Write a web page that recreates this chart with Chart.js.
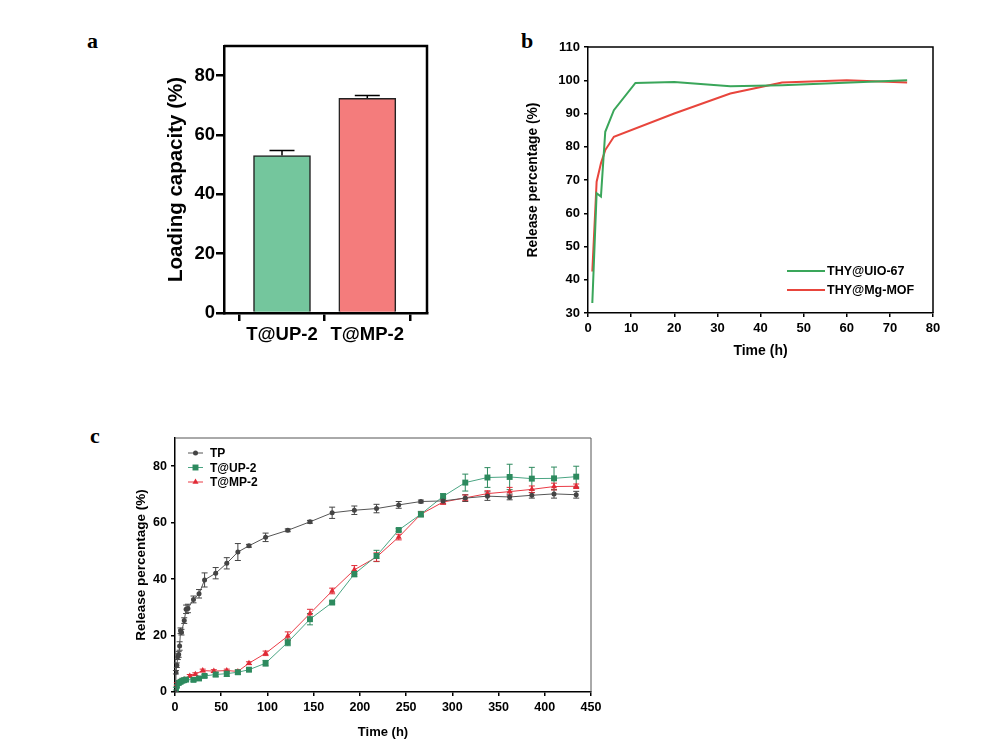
<!DOCTYPE html>
<html>
<head>
<meta charset="utf-8">
<script src="https://cdn.jsdelivr.net/npm/chart.js@4.4.1/dist/chart.umd.min.js"></script>
<style>
  body { margin: 0; background: #fff; width: 1008px; height: 753px; position: relative; overflow: hidden; }
  canvas { position: absolute; }
  .lbl { position: absolute; font: bold 22px "Liberation Serif", "Times New Roman", serif; line-height: 22px; color: #000; }
</style>
</head>
<body>
<div class="lbl" style="left:87px;top:30px">a</div>
<div class="lbl" style="left:521px;top:30px">b</div>
<div class="lbl" style="left:90px;top:425px">c</div>
<canvas id="chartA" width="300" height="330" style="left:150px;top:30px"></canvas>
<canvas id="chartB" width="470" height="340" style="left:500px;top:30px"></canvas>
<canvas id="chartC" width="540" height="330" style="left:90px;top:420px"></canvas>
<script>
// panel a - loading capacity
const aCats = ['T@UP-2', 'T@MP-2'];
const aLoad = [53.1, 72.4];
const aErr = [1.7, 0.9];
const aTicks = [0, 20, 40, 60, 80];

// panel b - release, hours
const bTimeUIO = [1, 2, 3, 4, 6, 11, 20, 33, 45, 74];
const bUIO = [33, 66, 65, 84.5, 91, 99.2, 99.5, 98.2, 98.5, 100];
const bTimeMg = [1, 2, 3, 4, 6, 20, 33, 45, 60, 74];
const bMg = [42.5, 69.5, 75, 79, 83, 90, 96, 99.3, 100, 99.3];

// panel c - release, hours
const tpTime = [0, 1, 2, 3, 4, 5, 6, 7, 10, 12, 14, 20, 26, 32, 44, 56, 68, 80, 98, 122, 146, 170, 194, 218, 242, 266, 290, 314, 338, 362, 386, 410, 434];
const tpValue = [0, 7, 9.5, 12.5, 13.3, 16.3, 21.7, 21.2, 25.3, 29.3, 29.6, 32.8, 34.8, 39.7, 42.1, 45.6, 49.6, 51.8, 54.8, 57.3, 60.3, 63.5, 64.4, 65.0, 66.3, 67.5, 67.7, 68.7, 69.4, 69.1, 69.7, 70.2, 69.9];
const tpError = [0, 0.6, 0.8, 1, 1, 1.5, 1, 1, 1, 1.5, 1.5, 1.2, 1.5, 2.5, 2, 2, 3, 0.5, 1.5, 0.5, 0.5, 2, 1.5, 1.5, 1.2, 0.5, 1, 1.2, 1.5, 1, 1, 1.5, 1.2];

const upTime = [0, 1, 2, 4, 6, 8, 10, 12, 20, 26, 32, 44, 56, 68, 80, 98, 122, 146, 170, 194, 218, 242, 266, 290, 314, 338, 362, 386, 410, 434];
const upValue = [0, 1.2, 2.2, 3.2, 3.6, 4.0, 4.2, 4.4, 4.3, 4.8, 5.7, 6.2, 6.5, 7.0, 7.9, 10.2, 17.6, 25.8, 31.7, 41.8, 48.2, 57.4, 63.0, 69.3, 74.2, 76.0, 76.2, 75.6, 75.7, 76.3];
const upError = [0, 0.5, 0.5, 0.5, 0.5, 0.5, 0.5, 0.5, 0.5, 0.5, 0.5, 0.8, 1, 0.8, 0.5, 1, 1.2, 2, 0.5, 1, 2, 0.5, 1, 1, 3, 3.5, 4.5, 4, 4, 3.7];

const mpTime = [0, 2, 5, 10, 16, 22, 30, 42, 56, 68, 80, 98, 122, 146, 170, 194, 218, 242, 266, 290, 314, 338, 362, 386, 410, 434];
const mpValue = [0, 2.8, 3.6, 4.4, 5.7, 6.3, 7.6, 7.4, 7.6, 7.3, 10.2, 13.7, 19.8, 27.8, 35.8, 43.3, 47.8, 54.9, 63.0, 67.3, 68.8, 70.3, 71.0, 71.8, 72.8, 72.9];
const mpError = [0, 0.5, 0.5, 0.5, 0.5, 0.5, 0.5, 0.5, 0.5, 0.5, 0.5, 0.8, 1.5, 1.5, 1, 1.5, 1.5, 1, 0.8, 0.8, 1, 1, 1.5, 1.2, 1.2, 0.8];
const cYTicks = [0, 20, 40, 60, 80];

Chart.defaults.font.family = '"Liberation Sans", Arial, sans-serif';
Chart.defaults.font.weight = 'bold';
Chart.defaults.color = '#000';

const pts = (xs, ys) => xs.map((x, i) => ({ x: x, y: ys[i] }));

// top + right lines of the plot box
const frame = {
  id: 'frame',
  afterDraw(chart, args, opts) {
    const { ctx, chartArea: a } = chart;
    ctx.save();
    ctx.strokeStyle = opts.color || '#000';
    ctx.lineWidth = opts.width || 1;
    ctx.beginPath();
    ctx.moveTo(a.left, a.top);
    ctx.lineTo(a.right, a.top);
    ctx.lineTo(a.right, a.bottom);
    ctx.stroke();
    ctx.restore();
  }
};

const errorBars = {
  id: 'errorBars',
  beforeDatasetsDraw(chart, args, opts) {
    const { ctx } = chart;
    const ys = chart.scales.y;
    chart.data.datasets.forEach((ds, i) => {
      if (!ds.errors) return;
      const meta = chart.getDatasetMeta(i);
      ctx.save();
      ctx.strokeStyle = ds.errorColor || '#000';
      ctx.lineWidth = opts.lineWidth || 1;
      const w = (opts.cap || 6) / 2;
      meta.data.forEach((el, j) => {
        const e = ds.errors[j];
        if (!e) return;
        const v = ds.data[j].y;
        const top = ys.getPixelForValue(v + e);
        const bot = ys.getPixelForValue(opts.upperOnly ? v : v - e);
        ctx.beginPath();
        ctx.moveTo(el.x, top); ctx.lineTo(el.x, bot);
        ctx.moveTo(el.x - w, top); ctx.lineTo(el.x + w, top);
        if (!opts.upperOnly) { ctx.moveTo(el.x - w, bot); ctx.lineTo(el.x + w, bot); }
        ctx.stroke();
      });
      ctx.restore();
    });
  }
};

// legend drawn inside the plot area
const innerLegend = {
  id: 'innerLegend',
  afterDraw(chart, args, opts) {
    if (!opts.show) return;
    const { ctx, chartArea: a } = chart;
    ctx.save();
    ctx.font = opts.font;
    ctx.textBaseline = 'middle';
    chart.data.datasets.forEach((ds, i) => {
      const x = a.left + opts.x, y = a.top + opts.y + i * opts.gap;
      ctx.strokeStyle = ds.borderColor;
      ctx.lineWidth = opts.lineWidth;
      ctx.beginPath(); ctx.moveTo(x, y); ctx.lineTo(x + opts.len, y); ctx.stroke();
      if (opts.markers) {
        ctx.fillStyle = ds.pointBackgroundColor;
        Chart.helpers.drawPoint(ctx, { pointStyle: ds.pointStyle, radius: ds.pointRadius, borderWidth: 0, rotation: 0 }, x + opts.len / 2, y);
      }
      ctx.fillStyle = '#000';
      ctx.fillText(ds.label, x + opts.len + opts.pad, y + 1);
    });
    ctx.restore();
  }
};

Chart.register(frame, errorBars, innerLegend);

// ---- a ----
new Chart(document.getElementById('chartA'), {
  type: 'bar',
  data: {
    datasets: [{
      data: pts(aCats.map((c, i) => i + 1), aLoad),
      errors: aErr,
      backgroundColor: ['#74c69d', '#f47c7c'],
      borderColor: '#222',
      borderWidth: 1.5,
      barThickness: 57
    }]
  },
  options: {
    responsive: false,
    animation: false,
    devicePixelRatio: 1,
    layout: { padding: { left: 10, top: 16, right: 23, bottom: 0 } },
    scales: {
      x: {
        type: 'linear', min: 0.32, max: 2.7, offset: false,
        afterBuildTicks: s => { s.ticks = aCats.map((c, i) => ({ value: i + 1 })); },
        ticks: { callback: v => aCats[v - 1], font: { size: 18.5 }, padding: 3, autoSkip: false, maxRotation: 0 },
        grid: { drawOnChartArea: false, tickLength: 8, color: '#000', lineWidth: 2.5 },
        border: { color: '#000', width: 2.5 },
        afterFit: s => { s.height = 47; }
      },
      y: {
        min: 0, max: 90,
        afterBuildTicks: s => { s.ticks = aTicks.map(v => ({ value: v })); },
        ticks: { font: { size: 18.5 }, padding: 1 },
        grid: { drawOnChartArea: false, tickLength: 8, color: '#000', lineWidth: 2.5 },
        border: { color: '#000', width: 2.5 },
        title: { display: true, text: 'Loading capacity (%)', font: { size: 20.5 }, padding: { top: 4, bottom: 0 } },
        afterFit: s => { s.width = 64; }
      }
    },
    plugins: {
      legend: { display: false }, tooltip: { enabled: false },
      frame: { width: 2.5 },
      errorBars: { cap: 25, lineWidth: 1.5, upperOnly: true }
    }
  }
});

// ---- b ----
new Chart(document.getElementById('chartB'), {
  type: 'scatter',
  data: {
    datasets: [
      { label: 'THY@UIO-67', data: pts(bTimeUIO, bUIO), showLine: true, borderColor: '#3aa65a', borderWidth: 2, pointRadius: 0 },
      { label: 'THY@Mg-MOF', data: pts(bTimeMg, bMg), showLine: true, borderColor: '#e8453c', borderWidth: 2, pointRadius: 0 }
    ]
  },
  options: {
    responsive: false,
    animation: false,
    devicePixelRatio: 1,
    layout: { padding: { left: 20, top: 17, right: 37, bottom: 0 } },
    scales: {
      x: {
        min: 0, max: 80,
        ticks: { stepSize: 10, font: { size: 13 }, padding: 4, maxRotation: 0 },
        grid: { drawOnChartArea: false, tickLength: 4, color: '#000', lineWidth: 1.5 },
        border: { color: '#000', width: 1.5 },
        title: { display: true, text: 'Time (h)', font: { size: 14 }, padding: { top: 0, bottom: 10 } },
        afterFit: s => { s.height = 57; }
      },
      y: {
        min: 30, max: 110,
        ticks: { stepSize: 10, font: { size: 13 }, padding: 4 },
        grid: { drawOnChartArea: false, tickLength: 4, color: '#000', lineWidth: 1.5 },
        border: { color: '#000', width: 1.5 },
        title: { display: true, text: 'Release percentage (%)', font: { size: 13.8 }, padding: { top: 5, bottom: 0 } },
        afterFit: s => { s.width = 68; }
      }
    },
    plugins: {
      legend: { display: false }, tooltip: { enabled: false },
      frame: { width: 1.5 },
      innerLegend: { show: true, x: 199, y: 224, gap: 19, len: 38, pad: 2, lineWidth: 2, font: 'bold 12.5px "Liberation Sans", Arial, sans-serif' }
    }
  }
});

// ---- c ----
new Chart(document.getElementById('chartC'), {
  type: 'scatter',
  data: {
    datasets: [
      { label: 'TP', data: pts(tpTime, tpValue), errors: tpError, errorColor: '#444', showLine: true,
        borderColor: '#555', borderWidth: 1, pointStyle: 'circle', pointRadius: 2.5, pointBackgroundColor: '#444', pointBorderWidth: 0 },
      { label: 'T@UP-2', data: pts(upTime, upValue), errors: upError, errorColor: '#2d8a5e', showLine: true,
        borderColor: '#4aa583', borderWidth: 1, pointStyle: 'rect', pointRadius: 4.2, pointBackgroundColor: '#2d8a5e', pointBorderWidth: 0 },
      { label: 'T@MP-2', data: pts(mpTime, mpValue), errors: mpError, errorColor: '#e02a36', showLine: true,
        borderColor: '#ea3a45', borderWidth: 1, pointStyle: 'triangle', pointRadius: 3.5, pointBackgroundColor: '#e02a36', pointBorderWidth: 0 }
    ]
  },
  options: {
    responsive: false,
    animation: false,
    devicePixelRatio: 1,
    layout: { padding: { left: 30, top: 18, right: 39, bottom: 0 } },
    scales: {
      x: {
        min: 0, max: 450,
        ticks: { stepSize: 50, font: { size: 12.5 }, padding: 4, maxRotation: 0 },
        grid: { drawOnChartArea: false, tickLength: 4, color: '#000', lineWidth: 1.5 },
        border: { color: '#000', width: 1.5 },
        title: { display: true, text: 'Time (h)', font: { size: 13 }, padding: { top: 0, bottom: 10 } },
        afterFit: s => { s.height = 58; }
      },
      y: {
        min: 0, max: 90,
        afterBuildTicks: s => { s.ticks = cYTicks.map(v => ({ value: v })); },
        ticks: { font: { size: 12.5 }, padding: 4 },
        grid: { drawOnChartArea: false, tickLength: 4, color: '#000', lineWidth: 1.5 },
        border: { color: '#000', width: 1.5 },
        title: { display: true, text: 'Release percentage (%)', font: { size: 13.5 }, padding: { top: 13, bottom: 0 } },
        afterFit: s => { s.width = 55; }
      }
    },
    plugins: {
      legend: { display: false }, tooltip: { enabled: false },
      frame: { width: 1, color: '#555' },
      errorBars: { cap: 6, lineWidth: 1 },
      innerLegend: { show: true, markers: true, x: 13, y: 15, gap: 14.5, len: 15, pad: 7, lineWidth: 1, font: 'bold 12px "Liberation Sans", Arial, sans-serif' }
    }
  }
});
</script>
</body>
</html>
